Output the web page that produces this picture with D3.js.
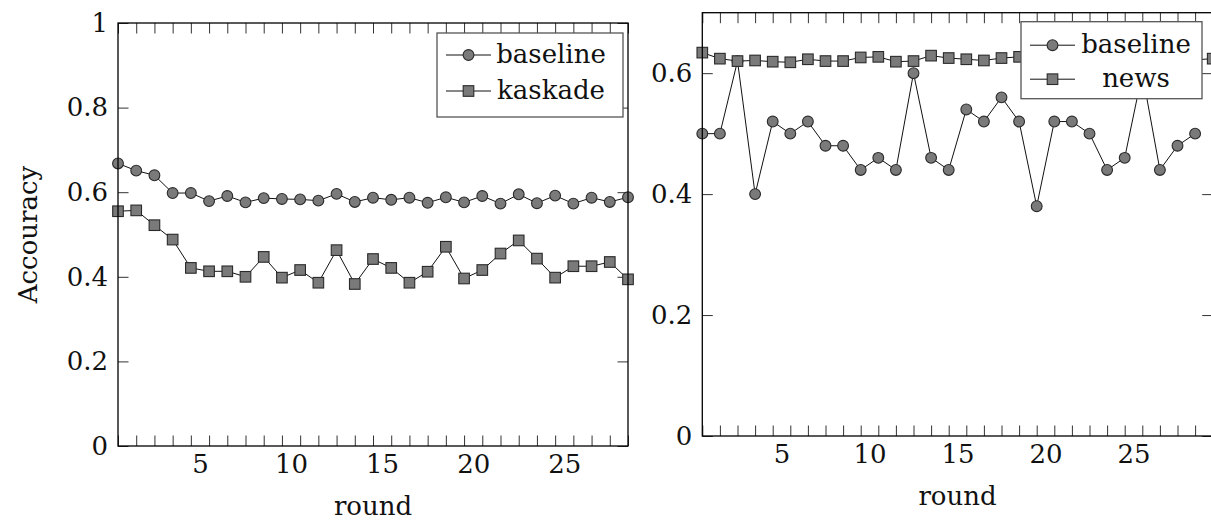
<!DOCTYPE html>
<html>
<head>
<meta charset="utf-8">
<script src="https://cdn.jsdelivr.net/npm/d3@7"></script>
<style>
  html, body { margin: 0; padding: 0; background: #fff; }
  svg { display: block; }
</style>
</head>
<body>
<svg id="chart" width="1211" height="521"></svg>
<script>
// ---- data ---------------------------------------------------------------
// left panel: baseline vs. kaskade, rounds 1..29
const roundsLeft = d3.range(1, 30);
const baselineLeft = [0.668, 0.651, 0.640, 0.598, 0.598, 0.579, 0.591, 0.576, 0.586, 0.584,
                      0.583, 0.580, 0.596, 0.577, 0.587, 0.582, 0.587, 0.575, 0.588, 0.576,
                      0.591, 0.573, 0.595, 0.574, 0.592, 0.573, 0.587, 0.577, 0.588];
const kaskadeLeft  = [0.555, 0.557, 0.522, 0.488, 0.421, 0.413, 0.413, 0.400, 0.447, 0.398,
                      0.416, 0.386, 0.463, 0.383, 0.442, 0.421, 0.386, 0.412, 0.471, 0.396,
                      0.416, 0.455, 0.486, 0.443, 0.398, 0.425, 0.425, 0.435, 0.394];

// right panel: baseline vs. news
const roundsBaselineRight = d3.range(1, 30);
const roundsNewsRight = d3.range(1, 31);
const baselineRight = [0.50, 0.50, 0.62, 0.40, 0.52, 0.50, 0.52, 0.48, 0.48, 0.44,
                       0.46, 0.44, 0.60, 0.46, 0.44, 0.54, 0.52, 0.56, 0.52, 0.38,
                       0.52, 0.52, 0.50, 0.44, 0.46, 0.60, 0.44, 0.48, 0.50];
const newsRight = [0.634, 0.624, 0.620, 0.621, 0.619, 0.618, 0.623, 0.620, 0.620, 0.626,
                   0.627, 0.619, 0.620, 0.629, 0.625, 0.623, 0.621, 0.625, 0.627, 0.622,
                   0.624, 0.621, 0.623, 0.620, 0.622, 0.624, 0.621, 0.623, 0.622, 0.624];

// tick values and labels
const yTicksLeft = [0, 0.2, 0.4, 0.6, 0.8, 1];
const yTicksRight = [0, 0.2, 0.4, 0.6];
const xTickLabels = [5, 10, 15, 20, 25];
const xLabelShift = 0.5;   // round labels sit between the per-round tick marks

// ---- drawing ------------------------------------------------------------
const svg = d3.select("#chart");
const FAMILY = "'DejaVu Serif', 'Liberation Serif', 'Times New Roman', serif";
const FONT = 26;

function drawMarker(g, type, cx, cy) {
  if (type === "circle") {
    g.append("circle").attr("cx", cx).attr("cy", cy).attr("r", 5.4)
      .attr("fill", "#7a7a7a").attr("stroke", "#2a2a2a").attr("stroke-width", 1.1);
  } else {
    const s = 10.6;
    g.append("rect").attr("x", cx - s / 2).attr("y", cy - s / 2).attr("width", s).attr("height", s)
      .attr("fill", "#7a7a7a").attr("stroke", "#2a2a2a").attr("stroke-width", 1.1);
  }
}

function label(g) {
  return g.append("text").attr("font-family", FAMILY).attr("font-size", FONT).attr("fill", "#111");
}

function panel(cfg) {
  const x = d3.scaleLinear().domain(cfg.xDomain).range([cfg.left, cfg.right]);
  const y = d3.scaleLinear().domain(cfg.yDomain).range([cfg.bottom, cfg.top]);
  const g = svg.append("g");
  const minor = d3.range(cfg.xDomain[0], cfg.xDomain[1] + 1);
  const tickLen = 10.5;

  const styleAxis = a => {
    a.select(".domain").remove();
    a.selectAll("line").attr("stroke", "#333").attr("stroke-width", 1);
    a.attr("font-family", FAMILY).attr("font-size", FONT);
    a.selectAll("text").attr("fill", "#111");
  };

  // per-round inward tick marks, bottom and top
  g.append("g").attr("transform", `translate(0,${cfg.bottom})`)
    .call(d3.axisBottom(x).tickValues(minor).tickSize(-tickLen).tickFormat(""))
    .call(styleAxis);
  g.append("g").attr("transform", `translate(0,${cfg.top})`)
    .call(d3.axisTop(x).tickValues(minor).tickSize(-tickLen).tickFormat(""))
    .call(styleAxis);

  // round labels
  g.append("g").attr("transform", `translate(0,${cfg.bottom})`)
    .call(d3.axisBottom(x).tickValues(xTickLabels.map(v => v + xLabelShift))
      .tickSize(0).tickPadding(9).tickFormat(v => String(Math.round(v - xLabelShift))))
    .call(styleAxis);

  // y axes: labelled on the left, plain ticks on the right
  g.append("g").attr("transform", `translate(${cfg.left},0)`)
    .call(d3.axisLeft(y).tickValues(cfg.yTicks).tickSize(-tickLen).tickPadding(10)
      .tickFormat(d => d3.format("~g")(d)))
    .call(styleAxis);
  g.append("g").attr("transform", `translate(${cfg.right},0)`)
    .call(d3.axisRight(y).tickValues(cfg.yTicks).tickSize(-tickLen).tickFormat(""))
    .call(styleAxis);

  // series
  const line = d3.line().x(d => x(d[0])).y(d => y(d[1]));
  cfg.series.forEach(s => {
    const pts = s.rounds.map((r, i) => [r, s.values[i]]);
    g.append("path").attr("d", line(pts)).attr("fill", "none")
      .attr("stroke", "#111").attr("stroke-width", 1);
  });
  cfg.series.forEach(s => {
    const mg = g.append("g");
    s.rounds.forEach((r, i) => drawMarker(mg, s.marker, x(r), y(s.values[i])));
  });

  // frame
  g.append("rect").attr("x", cfg.left).attr("y", cfg.top)
    .attr("width", cfg.right - cfg.left).attr("height", cfg.bottom - cfg.top)
    .attr("fill", "none").attr("stroke", "#000").attr("stroke-width", 1.3);

  // axis titles
  label(g).attr("x", (cfg.left + cfg.right) / 2).attr("y", cfg.bottom + 69)
    .attr("text-anchor", "middle").text("round");
  if (cfg.yLabel) {
    label(g).attr("transform", `translate(37,${(cfg.top + cfg.bottom) / 2}) rotate(-90)`)
      .attr("text-anchor", "middle").text(cfg.yLabel);
  }

  // legend
  const L = cfg.legend;
  const lg = g.append("g");
  lg.append("rect").attr("x", L.x).attr("y", L.y).attr("width", L.w).attr("height", L.h)
    .attr("fill", "#fff").attr("stroke", "#555").attr("stroke-width", 1.3);
  cfg.series.forEach((s, i) => {
    const cy = L.y + L.firstRow + i * L.rowGap;
    lg.append("line").attr("x1", L.x + 9).attr("x2", L.x + 54).attr("y1", cy).attr("y2", cy)
      .attr("stroke", "#111").attr("stroke-width", 1);
    drawMarker(lg, s.marker, L.x + 31.5, cy);
    label(lg).attr("x", L.x + L.textCenter).attr("y", cy).attr("dy", "0.3em")
      .attr("text-anchor", "middle").text(s.name);
  });
}

panel({
  left: 118, right: 628, top: 23, bottom: 446,
  xDomain: [1, 29], yDomain: [0, 1], yTicks: yTicksLeft,
  yLabel: "Accouracy",
  series: [
    { name: "baseline", rounds: roundsLeft, values: baselineLeft, marker: "circle" },
    { name: "kaskade", rounds: roundsLeft, values: kaskadeLeft, marker: "square" }
  ],
  legend: { x: 437, y: 33, w: 186, h: 84, firstRow: 22, rowGap: 36, textCenter: 114 }
});

panel({
  left: 702.3, right: 1212.7, top: 12.7, bottom: 436,
  xDomain: [1, 30], yDomain: [0, 0.7], yTicks: yTicksRight,
  yLabel: null,
  series: [
    { name: "baseline", rounds: roundsBaselineRight, values: baselineRight, marker: "circle" },
    { name: "news", rounds: roundsNewsRight, values: newsRight, marker: "square" }
  ],
  legend: { x: 1021, y: 21.7, w: 181, h: 77, firstRow: 23.5, rowGap: 34, textCenter: 115 }
});
</script>
</body>
</html>
